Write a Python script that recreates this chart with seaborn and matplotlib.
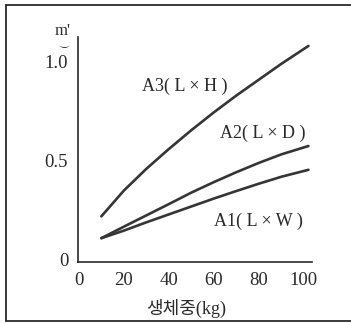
import numpy as np
import pandas as pd
import matplotlib
matplotlib.use("Agg")
import matplotlib.pyplot as plt
import seaborn as sns
from matplotlib.lines import Line2D

# Werte
weight = [10, 20, 30, 40, 50, 60, 70, 80, 90, 102]
a3_values = [0.22, 0.35, 0.46, 0.56, 0.655, 0.745, 0.83, 0.91, 0.99, 1.08]
a2_values = [0.11, 0.168, 0.225, 0.282, 0.34, 0.393, 0.443, 0.49, 0.533, 0.575]
a1_values = [0.11, 0.148, 0.19, 0.23, 0.27, 0.31, 0.348, 0.385, 0.42, 0.455]
series_names = ["A3", "A2", "A1"]
series_labels = ["A3( L × H )", "A2( L × D )", "A1( L × W )"]
x_ticks = [0, 20, 40, 60, 80, 100]
y_ticks = [0, 0.5, 1.0]
y_ticklabels = ["0", "0.5", "1.0"]

df = pd.DataFrame({
    "weight": weight * 3,
    "area": a3_values + a2_values + a1_values,
    "series": np.repeat(series_names, len(weight)),
})

sns.set_style("white")
plt.rcParams["font.family"] = ["Liberation Serif", "Noto Sans CJK KR"]

fig = plt.figure(figsize=(3.51, 3.23), dpi=100)
ax = fig.add_axes([0.222, 0.189, 0.667, 0.697])

sns.lineplot(data=df, x="weight", y="area", units="series", estimator=None,
             color="#353535", linewidth=1.9, legend=False, ax=ax)

ax.set_xlim(-0.4, 103.6)
ax.set_ylim(-0.01, 1.126)
ax.set_xticks(x_ticks)
ax.set_yticks(y_ticks)
ax.set_yticklabels(y_ticklabels)
ax.tick_params(length=0, labelsize=13.5, colors="#2a2a2a", pad=7)
ax.set_xlabel("생체중(kg)", fontsize=13, color="#2a2a2a")
ax.xaxis.set_label_coords(0.46, -0.165)
ax.set_ylabel("")
sns.despine(ax=ax)
for side in ["left", "bottom"]:
    ax.spines[side].set_color("#2a2a2a")
    ax.spines[side].set_linewidth(1.2)

# Beschriftung der Kurven
ax.text(47, 0.874, series_labels[0], fontsize=13, ha="center", va="center", color="#2a2a2a")
ax.text(81.5, 0.64, series_labels[1], fontsize=13, ha="center", va="center", color="#2a2a2a")
ax.text(80, 0.195, series_labels[2], fontsize=13, ha="center", va="center", color="#2a2a2a")

# Einheit oben an der y-Achse
fig.text(63 / 351, 1 - 31 / 323, "m'", fontsize=12, ha="center", va="center", color="#2a2a2a")
fig.text(63 / 351, 1 - 46 / 323, r"$\smile$", fontsize=8, ha="center", va="center", color="#2a2a2a")

# Rahmen um die Abbildung
frame_color = "#2a2a2a"
fig.add_artist(Line2D([6 / 351, 1], [1 - 5 / 323, 1 - 5 / 323], color=frame_color, lw=1.3, transform=fig.transFigure))
fig.add_artist(Line2D([6 / 351, 1], [1 - 321 / 323, 1 - 321 / 323], color=frame_color, lw=1.3, transform=fig.transFigure))
fig.add_artist(Line2D([6 / 351, 6 / 351], [1 - 5 / 323, 1 - 321 / 323], color=frame_color, lw=1.3, transform=fig.transFigure))

fig.savefig("out.png", dpi=100)
